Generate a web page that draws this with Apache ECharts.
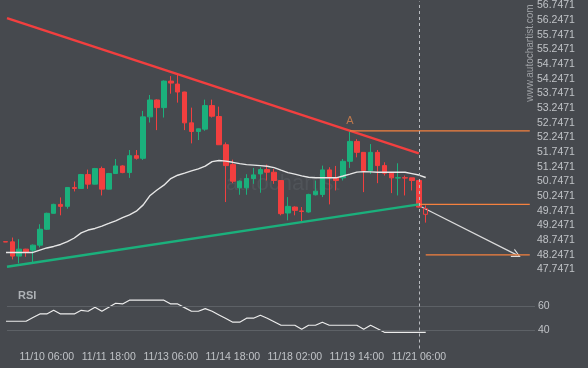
<!DOCTYPE html>
<html><head><meta charset="utf-8">
<script src="https://cdn.jsdelivr.net/npm/echarts@6/dist/echarts.min.js"></script>
<style>html,body{margin:0;padding:0;background:#46494e}#c{width:588px;height:368px}</style>
</head><body><div id="c"></div>
<script>
// candle k = -1 .. 60 (4H bars)
const opens  = [48.69,48.685,48.199,48.436,48.402,48.572,49.115,49.658,49.963,49.895,50.540,50.506,50.981,50.653,51.184,50.483,51.015,51.274,51.048,51.625,51.535,52.948,53.525,53.264,54.169,54.067,53.796,52.744,52.450,52.530,53.333,52.960,51.998,51.320,50.528,50.528,50.845,51.003,51.150,51.060,50.777,49.669,49.872,49.740,49.703,50.291,50.302,51.139,50.868,50.868,51.433,52.111,51.738,51.116,51.738,51.286,51.026,50.860,50.875,50.868,50.777,49.816];
const closes = [48.68,48.199,48.436,48.323,48.572,49.115,49.658,49.963,49.895,50.540,50.506,50.981,50.653,51.184,50.483,51.015,51.274,51.048,51.625,51.535,52.948,53.525,53.264,54.169,54.101,53.796,52.744,52.450,52.541,53.333,52.971,51.998,51.286,50.754,50.754,50.845,50.969,51.150,51.060,50.777,49.646,49.895,49.759,49.720,50.302,50.415,51.139,50.868,50.777,51.433,52.111,51.738,51.116,51.738,51.286,51.026,50.868,50.875,50.860,50.777,49.870,49.624];
const lows   = [48.68,48.086,47.950,48.176,47.973,48.493,49.092,49.646,49.590,49.816,50.404,50.494,50.494,50.641,50.268,50.471,51.003,51.026,50.867,51.490,51.478,52.756,52.496,52.925,53.739,53.434,52.496,52.043,52.157,52.473,52.925,51.998,50.042,50.686,50.291,50.291,50.664,50.359,50.777,50.664,49.590,49.420,49.590,49.364,49.680,50.268,50.212,49.963,50.438,50.777,51.207,51.568,50.381,51.003,50.686,50.947,50.347,50.268,50.268,50.438,49.850,49.341];
const highs  = [48.69,48.832,48.775,48.447,48.595,49.285,49.680,49.985,50.200,50.551,50.743,51.003,51.150,51.207,51.252,51.037,51.512,51.297,51.817,51.817,53.152,53.694,53.547,54.192,54.339,54.395,53.807,53.264,52.553,53.536,53.536,53.298,52.077,51.489,50.777,50.992,51.207,51.229,51.320,51.172,50.790,50.212,49.895,49.872,50.325,50.777,51.286,51.230,51.275,51.512,52.450,52.190,51.738,52.021,51.817,51.399,51.026,51.365,50.947,50.868,50.800,49.929];
const maValues = [48.324,48.324,48.324,48.324,48.324,48.403,48.477,48.528,48.596,48.691,48.816,48.989,49.088,49.142,49.223,49.312,49.403,49.508,49.603,49.729,49.946,50.268,50.455,50.618,50.845,50.957,51.031,51.106,51.174,51.269,51.421,51.462,51.438,51.398,51.354,51.320,51.303,51.286,51.262,51.218,51.130,51.048,50.994,50.936,50.889,50.869,50.869,50.869,50.869,50.930,50.997,51.065,51.082,51.072,51.059,51.059,51.059,51.059,51.059,51.014,50.964,50.879];
const rsiValues = [47.4,47.4,47.4,47.4,50.4,53.4,53.4,56.4,53.4,53.4,53.4,56.4,55.6,58.9,55.6,58.9,62.2,61.6,64.7,64.7,64.7,64.7,64.7,64.7,61.6,61.6,58.6,55.6,55.6,57.8,55.6,52.6,49.6,46.6,46.6,49.9,49.9,52.3,49.9,47.0,44.1,44.1,44.1,40.8,44.1,44.1,46.6,44.1,44.1,44.1,44.1,44.1,40.8,44.1,41.2,38.3,38.3,38.3,38.3,38.3,38.3,38.3];
const firstIndex = -1;
const xTickIndex  = [5, 14, 23, 32, 41, 50, 59];
const xTickLabels = ['11/10 06:00','11/11 18:00','11/13 06:00','11/14 18:00','11/18 02:00','11/19 14:00','11/21 06:00'];
const yTickValues = [47.7471,48.2471,48.7471,49.2471,49.7471,50.2471,50.7471,51.2471,51.7471,52.2471,52.7471,53.2471,53.7471,54.2471,54.7471,55.2471,55.7471,56.2471,56.7471];
const rsiTickValues = [40, 60];
const resistanceLine = [[-0.77, 56.316], [59, 51.703]];
const supportLine    = [[-0.77, 47.836], [59, 49.963]];
const levelA  = [[49, 52.47], [75.1, 52.47]];
const level2  = [[59, 49.963], [75.1, 49.963]];
const level3  = [[60, 48.24], [75.1, 48.24]];
const arrowPath = [[59.2, 49.9], [73.2, 48.24]];
const patternPoint = [[49, 52.47]];
const patternName = 'A';
const currentIndex = 59;

const UP = '#1bb07c', DOWN = '#f23f3f', TXT = '#c0c3c7', FONT = '"Liberation Sans", Arial, sans-serif';
const idx = opens.map((o, i) => i + firstIndex);
const candleData = opens.map((o, i) => {
  const item = { value: [idx[i], o, closes[i], lows[i], highs[i]] };
  if (i === opens.length - 1) item.itemStyle = { color0: 'rgba(0,0,0,0)', color: 'rgba(0,0,0,0)' };
  return item;
});
const maData = maValues.map((v, i) => [idx[i], v]);
const rsiData = rsiValues.map((v, i) => [idx[i], v]);
const XMIN = -0.77, XMAX = 75.86;

const chart = echarts.init(document.getElementById('c'), null, { renderer: 'canvas' });
chart.setOption({
  backgroundColor: '#46494e',
  animation: false,
  title: { text: 'RSI', left: 13, top: 285, textStyle: { color: '#aeb2b6', fontSize: 11, fontWeight: 'bold', fontFamily: FONT } },
  grid: [
    { left: 7, right: 53, top: 0, bottom: 84 },
    { left: 7, right: 53, top: 284, bottom: 19.5 }
  ],
  xAxis: [
    { type: 'value', gridIndex: 0, min: XMIN, max: XMAX, axisLine: { show: false }, axisTick: { show: false }, axisLabel: { show: false }, splitLine: { show: false } },
    { type: 'value', gridIndex: 1, min: XMIN, max: XMAX, axisLine: { show: false }, axisTick: { show: false }, splitLine: { show: false },
      axisLabel: { customValues: xTickIndex, margin: 3, color: TXT, fontSize: 10.5, fontFamily: FONT,
        formatter: v => { const j = xTickIndex.indexOf(Math.round(v)); return j >= 0 ? xTickLabels[j] : ''; } } }
  ],
  yAxis: [
    { type: 'value', gridIndex: 0, position: 'right', min: 47.2471, max: 56.8828, axisLine: { show: false }, axisTick: { show: false }, splitLine: { show: false },
      axisLabel: { customValues: yTickValues, margin: 2, color: TXT, fontSize: 10.5, fontFamily: FONT, formatter: v => v.toFixed(4) } },
    { type: 'value', gridIndex: 1, position: 'right', min: 25, max: 78, axisLine: { show: false }, axisTick: { show: false }, splitLine: { show: false },
      axisLabel: { customValues: rsiTickValues, margin: 3, color: TXT, fontSize: 10.5, fontFamily: FONT } }
  ],
  graphic: [
    { type: 'text', x: 530, y: 53, rotation: Math.PI / 2, z: 0,
      style: { text: 'www.autochartist.com', fill: '#9fa2a6', font: '10px ' + FONT, align: 'center', verticalAlign: 'middle' } },
    { type: 'text', x: 226, y: 184, z: 0,
      style: { text: 'autochartist', fill: '#505459', font: '22px ' + FONT, verticalAlign: 'middle' } }
  ],
  series: [
    { type: 'candlestick', xAxisIndex: 0, yAxisIndex: 0, barWidth: 5, data: candleData, clip: true,
      itemStyle: { color: UP, color0: DOWN, borderColor: UP, borderColor0: DOWN, borderWidth: 1 },
      markLine: { silent: true, symbol: 'none', label: { show: false },
        lineStyle: { color: '#b9bcc0', type: [3, 3], width: 1 }, data: [{ xAxis: currentIndex }] } },
    { type: 'line', xAxisIndex: 0, yAxisIndex: 0, data: maData, showSymbol: false, clip: true,
      lineStyle: { color: '#e6e6e6', width: 1.4 } },
    { type: 'line', xAxisIndex: 0, yAxisIndex: 0, data: resistanceLine, showSymbol: false,
      lineStyle: { color: '#f23f3f', width: 2.5 } },
    { type: 'line', xAxisIndex: 0, yAxisIndex: 0, data: supportLine, showSymbol: false,
      lineStyle: { color: '#1bb07c', width: 2.5 } },
    { type: 'line', xAxisIndex: 0, yAxisIndex: 0, data: levelA, showSymbol: false, lineStyle: { color: '#f5813f', width: 1.3 } },
    { type: 'line', xAxisIndex: 0, yAxisIndex: 0, data: level2, showSymbol: false, lineStyle: { color: '#f5813f', width: 1.3 } },
    { type: 'line', xAxisIndex: 0, yAxisIndex: 0, data: level3, showSymbol: false, lineStyle: { color: '#f5813f', width: 1.3 } },
    { type: 'lines', coordinateSystem: 'cartesian2d', xAxisIndex: 0, yAxisIndex: 0,
      symbol: ['none', 'path://M0,10 L5,0 L10,10 L8.6,10 L5,2.8 L1.4,10 Z'], symbolSize: 9,
      lineStyle: { color: '#dcdcdc', width: 1.2, opacity: 1 }, data: [{ coords: arrowPath }] },
    { type: 'scatter', xAxisIndex: 0, yAxisIndex: 0, data: patternPoint, symbolSize: 2, z: 10,
      itemStyle: { color: 'rgba(0,0,0,0)' },
      label: { show: true, position: 'top', distance: 3, formatter: patternName, color: '#d9834c', fontSize: 11, fontFamily: FONT } },
    { type: 'line', xAxisIndex: 1, yAxisIndex: 1, data: rsiData, showSymbol: false, clip: true,
      lineStyle: { color: '#ececec', width: 1.2 },
      markLine: { silent: true, symbol: 'none', label: { show: false },
        data: [
          { yAxis: 40, lineStyle: { color: '#5d6166', type: 'solid', width: 1 } },
          { yAxis: 60, lineStyle: { color: '#5d6166', type: 'solid', width: 1 } },
          { xAxis: currentIndex, lineStyle: { color: '#b9bcc0', type: [3, 3], width: 1 } }
        ] } }
  ]
});
</script></body></html>
